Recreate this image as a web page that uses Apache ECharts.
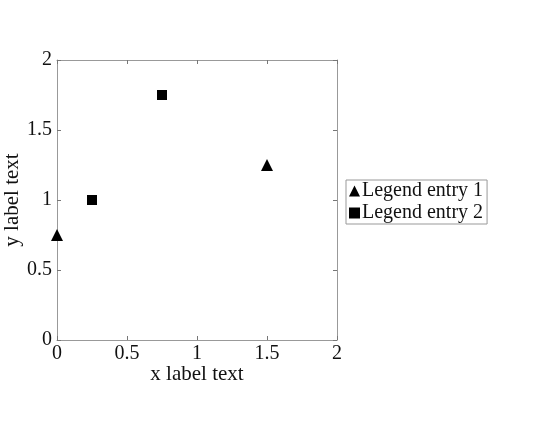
<!DOCTYPE html>
<html><head><meta charset="utf-8">
<script src="https://cdn.jsdelivr.net/npm/echarts@6/dist/echarts.min.js"></script>
<style>html,body{margin:0;padding:0;background:#fff}#c{width:540px;height:432px}</style>
</head><body><div id="c"></div>
<script>
const seriesNames = ['Legend entry 1', 'Legend entry 2'];
const series1X = [0, 1.5];
const series1Y = [0.75, 1.25];
const series2X = [0.25, 0.75];
const series2Y = [1, 1.75];
const xTicks = [0, 0.5, 1, 1.5, 2];
const yTicks = [0, 0.5, 1, 1.5, 2];
const xLabel = 'x label text';
const yLabel = 'y label text';

const FONT = 'Liberation Serif';
const axisColor = '#999';
const chart = echarts.init(document.getElementById('c'));
const baseAxis = {
  type: 'value', min: 0, max: 2, interval: 0.5,
  axisLine: {show: true, onZero: false, lineStyle: {color: axisColor, width: 1}},
  axisTick: {show: true, inside: true, length: 4, lineStyle: {color: '#777'}},
  splitLine: {show: false},
  axisLabel: {color: '#111', fontFamily: FONT, fontSize: 20,
    formatter: v => xTicks.includes(v) ? String(v) : ''}
};
chart.setOption({
  animation: false,
  textStyle: {fontFamily: FONT},
  grid: {left: 57, top: 60, width: 280, height: 280, containLabel: false, outerBoundsMode: 'none'},
  xAxis: [
    Object.assign({}, baseAxis, {position: 'bottom', name: xLabel, nameLocation: 'middle', nameGap: 24,
      nameMoveOverlap: false,
      nameTextStyle: {color: '#111', fontFamily: FONT, fontSize: 21},
      axisLabel: Object.assign({}, baseAxis.axisLabel, {margin: 4})}),
    Object.assign({}, baseAxis, {position: 'top', axisLabel: {show: false}})
  ],
  yAxis: [
    Object.assign({}, baseAxis, {position: 'left', name: yLabel, nameLocation: 'middle', nameGap: 34,
      nameMoveOverlap: false,
      nameTextStyle: {color: '#111', fontFamily: FONT, fontSize: 21},
      axisLabel: Object.assign({}, baseAxis.axisLabel, {margin: 5,
        formatter: v => yTicks.includes(v) ? String(v) : ''})}),
    Object.assign({}, baseAxis, {position: 'right', axisLabel: {show: false}})
  ],
  legend: {
    orient: 'vertical', left: 346, top: 180,
    data: [{name: seriesNames[0], icon: 'triangle'}, {name: seriesNames[1], icon: 'rect'}],
    itemWidth: 11, itemHeight: 11, itemGap: 2,
    padding: [1, 4, 1, 3],
    borderColor: '#999', borderWidth: 1,
    itemStyle: {opacity: 1},
    textStyle: {fontFamily: FONT, fontSize: 20, color: '#111', padding: [0, 0, 0, -3]}
  },
  series: [
    {name: seriesNames[0], type: 'scatter', symbol: 'triangle', symbolSize: 12,
      itemStyle: {color: '#000', opacity: 1}, data: series1X.map((x, i) => [x, series1Y[i]])},
    {name: seriesNames[1], type: 'scatter', symbol: 'rect', symbolSize: 10,
      itemStyle: {color: '#000', opacity: 1}, data: series2X.map((x, i) => [x, series2Y[i]])}
  ]
});
</script></body></html>
